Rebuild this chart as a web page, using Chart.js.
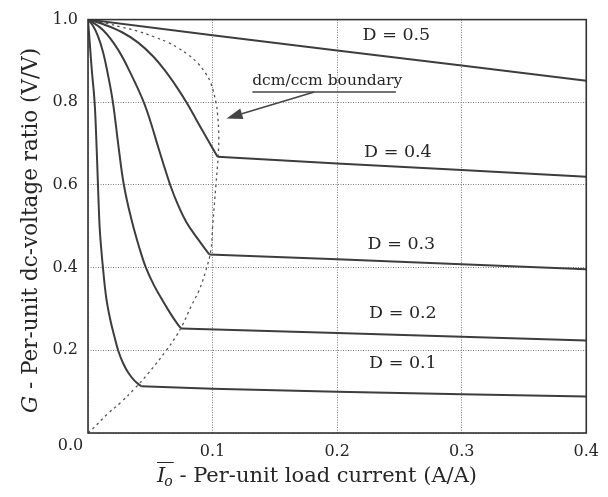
<!DOCTYPE html>
<html>
<head>
<meta charset="utf-8">
<script src="https://cdn.jsdelivr.net/npm/chart.js@4.4.0/dist/chart.umd.min.js"></script>
<style>
  html, body { margin: 0; padding: 0; background: #fff; }
  #wrap { width: 608px; height: 497px; }
</style>
</head>
<body>
<div id="wrap"><canvas id="gain"></canvas></div>
<script>
// G = Vo/Vin against per-unit load current, one curve per duty cycle

const dutyLabels = ['D = 0.1', 'D = 0.2', 'D = 0.3', 'D = 0.4', 'D = 0.5'];

// discontinuous-conduction branches (Io, G)
const dcmIo01 = [0, 0.0015, 0.003, 0.0053, 0.0068, 0.008, 0.0093, 0.0105, 0.012, 0.0145, 0.0178,
                 0.0215, 0.0243, 0.028, 0.0325, 0.0375, 0.0427];
const dcmG01  = [1, 0.94, 0.88, 0.8, 0.7, 0.6, 0.5, 0.45, 0.4, 0.33, 0.275,
                 0.23, 0.199, 0.17, 0.145, 0.126, 0.113];
const dcmIo02 = [0, 0.004, 0.008, 0.012, 0.016, 0.020, 0.0245, 0.0288, 0.035, 0.041, 0.0465,
                 0.053, 0.06, 0.066, 0.0715, 0.0747];
const dcmG02  = [1, 0.985, 0.96, 0.922, 0.867, 0.8, 0.693, 0.6, 0.515, 0.45, 0.4,
                 0.357, 0.32, 0.29, 0.265, 0.253];
const dcmIo03 = [0, 0.012, 0.024, 0.035, 0.0448, 0.0505, 0.0565, 0.066, 0.0725, 0.079, 0.088, 0.0973];
const dcmG03  = [1, 0.975, 0.928, 0.865, 0.8, 0.75, 0.69, 0.6, 0.55, 0.51, 0.47, 0.432];
const dcmIo04 = [0, 0.013, 0.027, 0.040, 0.052, 0.062, 0.071, 0.079, 0.0875, 0.096, 0.104];
const dcmG04  = [1, 0.988, 0.970, 0.945, 0.912, 0.876, 0.838, 0.8, 0.755, 0.71, 0.668];

// continuous-conduction branches
const ccmIo01 = [0.0427, 0.1, 0.2, 0.3, 0.4];
const ccmG01  = [0.113, 0.107, 0.100, 0.094, 0.088];
const ccmIo02 = [0.0747, 0.2, 0.3, 0.4];
const ccmG02  = [0.253, 0.242, 0.233, 0.224];
const ccmIo03 = [0.0973, 0.2, 0.3, 0.4];
const ccmG03  = [0.432, 0.420, 0.408, 0.396];
const ccmIo04 = [0.104, 0.2, 0.3, 0.4];
const ccmG04  = [0.668, 0.652, 0.636, 0.620];
const ccmIo05 = [0, 0.1, 0.2, 0.3, 0.4];
const ccmG05  = [1, 0.962, 0.925, 0.889, 0.852];

// dcm/ccm boundary
const bndIo = [0, 0.004, 0.016, 0.0267, 0.0373, 0.048, 0.0627, 0.0707, 0.076, 0.0827, 0.0893, 0.0947,
               0.0987, 0.1, 0.1027, 0.1045, 0.105, 0.104, 0.1027, 0.0985, 0.094, 0.088, 0.08, 0.072,
               0.064, 0.0533, 0.04, 0.0267, 0.016, 0];
const bndG  = [0, 0.011, 0.047, 0.075, 0.107, 0.143, 0.199, 0.234, 0.262, 0.306, 0.346, 0.394,
               0.443, 0.498, 0.6, 0.67, 0.72, 0.771, 0.8, 0.847, 0.872, 0.895, 0.916, 0.932,
               0.945, 0.958, 0.972, 0.982, 0.99, 1];

const xTicks = [0, 0.1, 0.2, 0.3, 0.4];
const yTicks = [0, 0.2, 0.4, 0.6, 0.8, 1.0];

const SERIF = '"DejaVu Serif", "Liberation Serif", serif';
const INK = '#262626';
const CURVE = '#3d3d3d';

function pts(xs, ys) {
  return xs.map((x, i) => ({ x: x, y: ys[i] }));
}

function curve(xs, ys, tension) {
  return {
    data: pts(xs, ys),
    borderColor: CURVE,
    borderWidth: 2,
    pointRadius: 0,
    fill: false,
    tension: tension
  };
}

const datasets = [
  curve(dcmIo01, dcmG01, 0.4), curve(ccmIo01, ccmG01, 0),
  curve(dcmIo02, dcmG02, 0.4), curve(ccmIo02, ccmG02, 0),
  curve(dcmIo03, dcmG03, 0.4), curve(ccmIo03, ccmG03, 0),
  curve(dcmIo04, dcmG04, 0.4), curve(ccmIo04, ccmG04, 0),
  curve(ccmIo05, ccmG05, 0),
  {
    data: pts(bndIo, bndG),
    borderColor: '#555',
    borderWidth: 1.3,
    borderDash: [2.5, 3.5],
    pointRadius: 0,
    fill: false,
    tension: 0.4
  }
];

// where each duty label sits, in axis units (Io, G at text baseline)
const labelIo = [0.2528, 0.2528, 0.2516, 0.2488, 0.2476];
const labelG  = [0.158, 0.2775, 0.445, 0.6675, 0.9505];

const decor = {
  id: 'decor',
  afterDatasetsDraw(chart) {
    const ctx = chart.ctx;
    const a = chart.chartArea;
    const xs = chart.scales.x, ys = chart.scales.y;
    ctx.save();

    // plot frame
    ctx.strokeStyle = '#333';
    ctx.lineWidth = 1.6;
    ctx.strokeRect(a.left, a.top, a.right - a.left, a.bottom - a.top);

    // duty cycle labels
    ctx.fillStyle = INK;
    ctx.font = '17.5px ' + SERIF;
    ctx.textAlign = 'center';
    ctx.textBaseline = 'alphabetic';
    dutyLabels.forEach((t, i) => {
      ctx.fillText(t, xs.getPixelForValue(labelIo[i]), ys.getPixelForValue(labelG[i]));
    });

    // boundary callout with arrow
    const tx = xs.getPixelForValue(0.192), ty = ys.getPixelForValue(0.842);
    ctx.font = '15.5px ' + SERIF;
    ctx.fillText('dcm/ccm boundary', tx, ty);
    const uy = ys.getPixelForValue(0.825);
    const u0 = xs.getPixelForValue(0.132), u1 = xs.getPixelForValue(0.2472);
    ctx.strokeStyle = '#444';
    ctx.lineWidth = 1.5;
    ctx.beginPath();
    ctx.moveTo(u0, uy);
    ctx.lineTo(u1, uy);
    ctx.stroke();
    const sx = xs.getPixelForValue(0.1816), sy = uy;
    const ex = xs.getPixelForValue(0.1112), ey = ys.getPixelForValue(0.761);
    const ang = Math.atan2(ey - sy, ex - sx);
    const head = 16, half = 5.5;
    const bx = ex - head * Math.cos(ang), by = ey - head * Math.sin(ang);
    ctx.beginPath();
    ctx.moveTo(sx, sy);
    ctx.lineTo(bx, by);
    ctx.stroke();
    ctx.fillStyle = '#444';
    ctx.beginPath();
    ctx.moveTo(ex, ey);
    ctx.lineTo(bx + half * Math.sin(ang), by - half * Math.cos(ang));
    ctx.lineTo(bx - half * Math.sin(ang), by + half * Math.cos(ang));
    ctx.closePath();
    ctx.fill();

    // shared origin label
    ctx.fillStyle = INK;
    ctx.font = '16px ' + SERIF;
    ctx.textAlign = 'center';
    ctx.fillText('0.0', a.left - 17.5, a.bottom + 17);

    // x axis title: overlined I_o
    ctx.textAlign = 'left';
    const x = 157;
    const base = 482;
    ctx.font = 'italic 21px ' + SERIF;
    ctx.fillText('I', x, base);
    const wI = ctx.measureText('I').width;
    ctx.font = 'italic 14px ' + SERIF;
    ctx.fillText('o', x + wI - 1, base + 4);
    const wO = ctx.measureText('o').width;
    ctx.strokeStyle = INK;
    ctx.lineWidth = 1;
    ctx.beginPath();
    ctx.moveTo(x, base - 19.5);
    ctx.lineTo(x + wI + wO, base - 19.5);
    ctx.stroke();
    ctx.font = '21px ' + SERIF;
    ctx.fillText(' - Per-unit load current (A/A)', x + wI + wO - 1, base);

    // y axis title, reading upwards
    ctx.translate(37, 413);
    ctx.rotate(-Math.PI / 2);
    ctx.font = 'italic 21.5px ' + SERIF;
    ctx.fillText('G', 0, 0);
    const wG = ctx.measureText('G').width;
    ctx.font = '21.5px ' + SERIF;
    ctx.fillText(' - Per-unit dc-voltage ratio (V/V)', wG, 0);

    ctx.restore();
  }
};

const tickText = (v) => (Math.abs(v) < 1e-9 ? '' : v.toFixed(1));

new Chart(document.getElementById('gain'), {
  type: 'line',
  data: { datasets: datasets },
  options: {
    responsive: true,
    maintainAspectRatio: false,
    devicePixelRatio: 1,
    animation: false,
    layout: { padding: { top: 15, right: 20, left: 0, bottom: 0 } },
    plugins: { legend: { display: false }, tooltip: { enabled: false } },
    scales: {
      x: {
        type: 'linear',
        min: xTicks[0],
        max: xTicks[xTicks.length - 1],
        afterBuildTicks: (s) => { s.ticks = xTicks.map(v => ({ value: v })); },
        afterFit: (s) => { s.height = 64; },
        grid: { color: '#7a7a7a', lineWidth: 1, drawTicks: false },
        border: { display: false, dash: [1, 1.5] },
        ticks: { callback: tickText, color: INK, padding: 9, maxRotation: 0,
                 font: { family: SERIF, size: 16 } }
      },
      y: {
        type: 'linear',
        min: yTicks[0],
        max: yTicks[yTicks.length - 1],
        afterBuildTicks: (s) => { s.ticks = yTicks.map(v => ({ value: v })); },
        afterFit: (s) => { s.width = 88; },
        grid: { color: '#7a7a7a', lineWidth: 1, drawTicks: false },
        border: { display: false, dash: [1, 1.5] },
        ticks: { callback: tickText, color: INK, padding: 10,
                 font: { family: SERIF, size: 16 } }
      }
    }
  },
  plugins: [decor]
});
</script>
</body>
</html>
